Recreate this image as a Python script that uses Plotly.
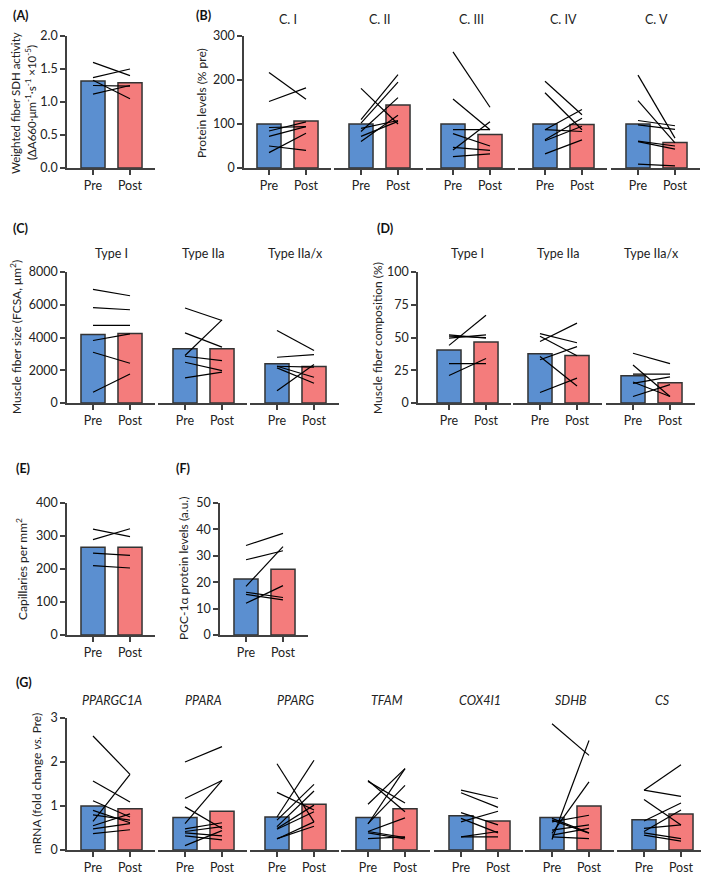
import plotly.graph_objects as go

# page body has an 8px margin: figure is drawn at (8, 8) in the window
OFF = 8
W, H = 709 - OFF, 872 - OFF
BLUE = "#5B8FD0"
RED = "#F47C7C"
AX = "#404040"
TXT = "#222222"
FONT = "Lato"

# ---------------- data ----------------
A_bar = [1.32, 1.29]
A_pre = [1.60, 1.37, 1.25, 1.12, 1.33]
A_post = [1.40, 1.50, 1.24, 1.25, 1.05]

B_titles = ["C. I", "C. II", "C. III", "C. IV", "C. V"]
B_bar_pre = [100, 100, 100, 100, 100]
B_bar_post = [107, 143, 76, 99, 58]
B_pre = [[217, 151, 92, 84, 72, 50, 35],
         [181, 110, 102, 83, 60, 72, 90],
         [264, 157, 87, 78, 41, 47, 26],
         [197, 171, 87, 64, 87, 32, 62],
         [211, 153, 108, 98, 60, 9, 61]]
B_post = [[156, 182, 94, 105, 94, 40, 79],
          [100, 212, 195, 160, 120, 106, 108],
          [138, 87, 87, 50, 105, 40, 32],
          [121, 87, 133, 113, 83, 64, 95],
          [68, 57, 96, 88, 43, 5, 50]]

C_titles = ["Type I", "Type IIa", "Type IIa/x"]
C_bar_pre = [4180, 3310, 2400]
C_bar_post = [4240, 3320, 2230]
C_pre = [[6940, 5820, 4735, 3815, 3100, 655],
         [5800, 4285, 2900, 2855, 2490, 1530],
         [4430, 2795, 2245, 2145, 755, 2245]]
C_post = [[6550, 5695, 4735, 4225, 2430, 1775],
          [5040, 3410, 5080, 2590, 1980, 1880],
          [3205, 2960, 1570, 1205, 2345, 2185]]

D_titles = ["Type I", "Type IIa", "Type IIa/x"]
D_bar_pre = [40.5, 37.5, 20.8]
D_bar_post = [46.5, 36.2, 15.5]
D_pre = [[52, 49.5, 44, 51, 30, 21],
         [53, 47, 33, 35.5, 8, 51],
         [38, 29, 22, 15, 5, 16]]
D_post = [[49.5, 52, 67, 50, 30, 34],
          [46, 61, 43, 13, 19, 36],
          [30, 5, 22, 20, 14, 5]]

E_bar = [266, 266]
E_pre = [321, 289, 248, 210]
E_post = [298, 322, 241, 203]

F_bar = [21.2, 24.9]
F_pre = [33.9, 28.5, 18.4, 16.2, 15.4, 12.0]
F_post = [38.5, 31.9, 33.5, 14.2, 13.3, 18.7]

G_genes = ["PPARGC1A", "PPARA", "PPARG", "TFAM", "COX4I1", "SDHB", "CS"]
G_bar_pre = [1.00, 0.74, 0.75, 0.74, 0.78, 0.74, 0.69]
G_bar_post = [0.94, 0.88, 1.04, 0.94, 0.66, 1.00, 0.82]
G_pre = [[2.59, 1.57, 1.12, 0.65, 0.90, 0.80, 0.55, 0.48, 0.37],
         [2.00, 1.17, 0.60, 0.98, 0.48, 0.42, 0.39, 0.32, 0.10],
         [1.96, 1.31, 0.75, 0.68, 0.53, 0.49, 0.47, 0.25, 0.26],
         [1.58, 1.56, 1.04, 0.59, 0.60, 0.42, 0.42, 0.39, 0.26],
         [1.36, 1.30, 0.85, 0.64, 0.72, 0.30, 0.30],
         [2.87, 0.24, 0.38, 0.72, 0.64, 0.45, 0.34, 0.30, 0.68],
         [1.36, 1.36, 1.15, 0.66, 0.42, 0.49, 0.39, 0.34]]
G_post = [[1.72, 1.09, 0.75, 1.72, 0.62, 0.68, 0.82, 0.60, 0.46],
          [2.35, 1.58, 1.58, 0.49, 0.62, 0.53, 0.32, 0.23, 0.44],
          [0.64, 0.91, 2.04, 1.49, 1.34, 1.02, 0.87, 0.64, 0.54],
          [0.87, 1.07, 1.85, 1.85, 1.47, 0.73, 0.28, 0.25, 0.30],
          [1.17, 0.97, 0.57, 0.88, 0.39, 0.30, 0.42],
          [2.15, 2.49, 1.55, 0.39, 0.79, 0.57, 0.49, 0.26, 0.38],
          [1.94, 1.22, 0.57, 1.07, 0.91, 0.57, 0.26, 0.20]]

X_LABELS = ["Pre", "Post"]

# ---------------- building ----------------
fig = go.Figure()
layout_axes = {}
annotations = []
counters = {"x": 0, "y": 0}
UNIT = 37.0  # px between Pre and Post


def fx(px):
    return (px - OFF) / W


def fy(py):
    return 1 - (py - OFF) / H


def name(prefix, n):
    return prefix if n == 1 else f"{prefix}{n}"


def add_group(L, pres, top, bottom, yrange, tickvals, tickfmt, bar_pre, bar_post,
              pre_lists, post_lists, titles=None, title_y=None, italic=False):
    counters["y"] += 1
    k = counters["y"]
    first_x = counters["x"] + 1
    for i, p in enumerate(pres):
        counters["x"] += 1
        n = counters["x"]
        left = L if i == 0 else p - 27
        right = min(p + UNIT + 25, 701)
        lo = -(p - left) / UNIT
        hi = 1 + (right - (p + UNIT)) / UNIT
        layout_axes[name("xaxis", n)] = dict(
            domain=[fx(left), fx(right)], range=[lo, hi], anchor=name("y", k),
            showline=True, linecolor=AX, linewidth=1.5, ticks="outside",
            ticklen=5, tickwidth=1.5, tickcolor=AX, tickvals=[0, 1],
            ticktext=X_LABELS, showgrid=False, zeroline=False, fixedrange=True,
            automargin=False,
            tickfont=dict(family=FONT, size=12.5, color=TXT))
        xs, ys = [], []
        for a, b in zip(pre_lists[i], post_lists[i]):
            xs += [0, 1, None]
            ys += [a, b, None]
        fig.add_trace(go.Bar(x=[0, 1], y=[bar_pre[i], bar_post[i]],
                             marker=dict(color=[BLUE, RED], line=dict(color="#333333", width=1.5)),
                             width=0.65, xaxis=name("x", n), yaxis=name("y", k),
                             hoverinfo="skip"))
        fig.add_trace(go.Scatter(x=xs, y=ys, mode="lines",
                                 line=dict(color="black", width=1.2),
                                 xaxis=name("x", n), yaxis=name("y", k),
                                 hoverinfo="skip"))
        if titles:
            t = f"<i>{titles[i]}</i>" if italic else titles[i]
            annotations.append(dict(x=fx(p + UNIT / 2), y=fy(title_y),
                                    xref="paper", yref="paper", text=t, showarrow=False,
                                    xanchor="center", yanchor="middle",
                                    font=dict(family=FONT, size=12.5, color=TXT)))
    layout_axes[name("yaxis", k)] = dict(
        domain=[fy(bottom), fy(top)], range=yrange, anchor=name("x", first_x),
        showline=True, linecolor=AX, linewidth=1.5, ticks="outside", ticklen=5,
        tickwidth=1.5, tickcolor=AX, tickvals=tickvals,
        ticktext=[tickfmt.format(v) for v in tickvals], showgrid=False,
        zeroline=False, fixedrange=True, automargin=False,
        tickfont=dict(family=FONT, size=12.5, color=TXT))


def ytitle(x, y, text, size=12):
    annotations.append(dict(x=fx(x), y=fy(y), xref="paper", yref="paper",
                            text=text, textangle=-90, showarrow=False,
                            xanchor="center", yanchor="middle",
                            font=dict(family=FONT, size=size, color=TXT)))


def plabel(x, y, text):
    annotations.append(dict(x=fx(x), y=fy(y), xref="paper", yref="paper",
                            text=f"<b>{text}</b>", showarrow=False,
                            xanchor="left", yanchor="middle",
                            font=dict(family=FONT, size=12.5, color="#111111")))


# A
add_group(67, [93], 36, 168, [0, 2.0], [0, 0.5, 1.0, 1.5, 2.0], "{:.1f}",
          [A_bar[0]], [A_bar[1]], [A_pre], [A_post])
# B
add_group(244, [269, 361, 453, 545, 638], 36, 168, [0, 300], [0, 100, 200, 300], "{:d}",
          B_bar_pre, B_bar_post, B_pre, B_post, titles=B_titles, title_y=19)
# C
add_group(67, [93, 185, 277], 272, 403, [0, 8000], [0, 2000, 4000, 6000, 8000], "{:d}",
          C_bar_pre, C_bar_post, C_pre, C_post, titles=C_titles, title_y=253)
# D
add_group(418, [449, 540, 633], 272, 403, [0, 100], [0, 25, 50, 75, 100], "{:d}",
          D_bar_pre, D_bar_post, D_pre, D_post, titles=D_titles, title_y=253)
# E
add_group(67, [93], 503, 635, [0, 400], [0, 100, 200, 300, 400], "{:d}",
          [E_bar[0]], [E_bar[1]], [E_pre], [E_post])
# F
add_group(220, [246], 503, 635, [0, 50], [0, 10, 20, 30, 40, 50], "{:d}",
          [F_bar[0]], [F_bar[1]], [F_pre], [F_post])
# G
add_group(67, [93, 185, 277, 368, 461, 552, 644], 718, 850, [0, 3], [0, 1, 2, 3], "{:d}",
          G_bar_pre, G_bar_post, G_pre, G_post, titles=G_genes, title_y=700, italic=True)

# y-axis titles
ytitle(15, 103, "Weighted fiber SDH activity", size=11.5)
ytitle(30, 103, "(ΔA660·μm<sup>-1</sup>·s<sup>-1</sup> ×10<sup>-5</sup>)", size=11.5)
ytitle(201, 103, "Protein levels (% pre)")
ytitle(16, 337, "Muscle fiber size (FCSA, μm<sup>2</sup>)")
ytitle(377, 338, "Muscle fiber composition (%)")
ytitle(22, 569, "Capillaries per mm<sup>2</sup>")
ytitle(183, 569, "PGC-1α protein levels (a.u.)")
ytitle(36, 784, "mRNA (fold change <i>vs.</i> Pre)")

# panel labels
plabel(11, 15, "(A)")
plabel(194, 15, "(B)")
plabel(11, 228, "(C)")
plabel(375, 228, "(D)")
plabel(14, 469, "(E)")
plabel(174, 469, "(F)")
plabel(14, 682, "(G)")

fig.update_layout(
    width=W, height=H, autosize=False,
    margin=dict(l=0, r=0, t=0, b=0, pad=0, autoexpand=False),
    paper_bgcolor="white", plot_bgcolor="white",
    showlegend=False, barmode="group",
    annotations=annotations,
    **layout_axes,
)

fig.write_html("out.html")
